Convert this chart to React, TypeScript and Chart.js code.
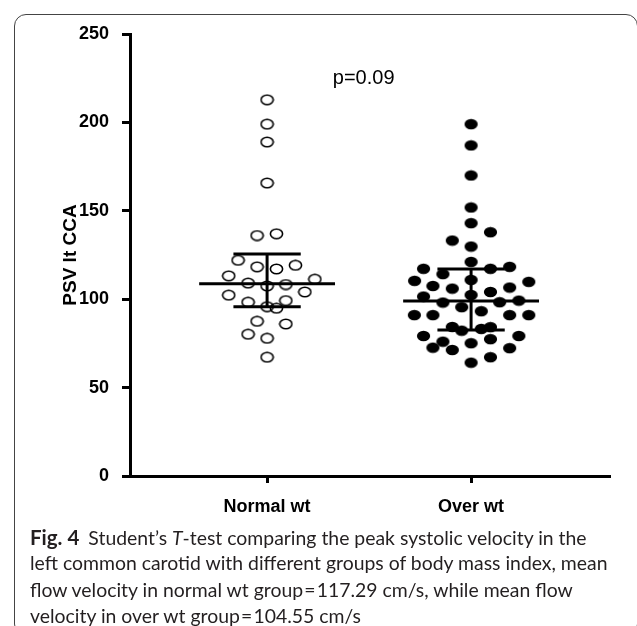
import React, { useEffect, useRef } from "react";
import { Chart, registerables } from "chart.js";

Chart.register(...registerables);

const categories = ["Normal wt", "Over wt"];

const normalValues = [212.8, 199, 188.9, 165.7, 136, 137, 122, 118.3, 117.1, 119.2, 113.2, 111.3, 109.1, 107.5, 108.3, 102.3, 104.1, 98.3, 99.2, 95.8, 94.9, 87.5, 86, 80.2, 77.9, 67.2];
const normalJitter = [0, 0, 0, 0, -0.049, 0.046, -0.142, -0.049, 0.046, 0.139, -0.188, 0.234, -0.093, 0, 0.092, -0.188, 0.185, -0.093, 0.092, 0, 0.046, -0.049, 0.092, -0.093, 0, 0];

const overValues = [199, 187, 170, 151.9, 143, 137.9, 133.2, 129.8, 121.1, 117.2, 117.2, 118.3, 114.2, 110.4, 110.9, 109.8, 107.5, 106, 106.6, 104.1, 101.5, 102.4, 99.2, 98.1, 98.3, 95.5, 93.2, 91, 91, 91, 91, 84.3, 82.2, 83.2, 84.2, 79.2, 76, 79.2, 77.4, 75.1, 72.6, 71.3, 72.3, 67.2, 64.1];
const overJitter = [0, 0, 0, 0, 0, 0.095, -0.092, 0, 0, -0.233, 0.095, 0.189, -0.138, -0.277, 0, 0.283, -0.187, -0.092, 0.189, 0.095, -0.233, 0, 0.234, -0.138, 0.14, -0.046, 0.05, -0.278, -0.187, 0.189, 0.283, -0.092, -0.046, 0.05, 0.095, -0.233, -0.138, 0.234, 0.095, 0, -0.187, -0.092, 0.189, 0.095, 0];

const medians = [108.7, 99.0];
const q1 = [95.8, 82.6];
const q3 = [125.6, 117.1];

const yTicks = [0, 50, 100, 150, 200, 250];
const pValueText = "p=0.09";

function makeEllipse(filled: boolean): HTMLCanvasElement {
  const c = document.createElement("canvas");
  c.width = 15;
  c.height = 12;
  const g = c.getContext("2d")!;
  g.beginPath();
  g.ellipse(7.5, 6, filled ? 6.6 : 6.1, filled ? 5.2 : 4.7, 0, 0, Math.PI * 2);
  if (filled) {
    g.fillStyle = "#000";
    g.fill();
  } else {
    g.lineWidth = 1.6;
    g.strokeStyle = "#000";
    g.stroke();
  }
  return c;
}

const TICK_FONT = { family: "'Liberation Sans', Arial, sans-serif", size: 18, weight: "bold" as const };

export default function App() {
  const ref = useRef<HTMLCanvasElement>(null);

  useEffect(() => {
    if (!ref.current) return;
    const open = makeEllipse(false);
    const filled = makeEllipse(true);
    const medHalf = 0.333;
    const iqrHalf = 0.165;

    const lineSets: any[] = [];
    [0, 1].forEach((i) => {
      const segs = [
        [{ x: i - medHalf, y: medians[i] }, { x: i + medHalf, y: medians[i] }],
        [{ x: i - iqrHalf, y: q1[i] }, { x: i + iqrHalf, y: q1[i] }],
        [{ x: i - iqrHalf, y: q3[i] }, { x: i + iqrHalf, y: q3[i] }],
        [{ x: i, y: q1[i] }, { x: i, y: q3[i] }],
      ];
      segs.forEach((d) =>
        lineSets.push({
          type: "line",
          data: d,
          borderColor: "#000",
          borderWidth: 3,
          pointRadius: 0,
          showLine: true,
          fill: false,
          order: 0,
          borderCapStyle: "butt",
        })
      );
    });

    const pPlugin = {
      id: "pvalue",
      afterDatasetsDraw(chart: any) {
        const { ctx, scales } = chart;
        ctx.save();
        ctx.font = "20px 'Liberation Sans', Arial, sans-serif";
        ctx.fillStyle = "#000";
        ctx.textAlign = "left";
        ctx.textBaseline = "alphabetic";
        ctx.fillText(pValueText, scales.x.getPixelForValue(0.322), scales.y.getPixelForValue(221.7));
        ctx.restore();
      },
    };

    const chart = new Chart(ref.current, {
      type: "scatter",
      data: {
        datasets: [
          ...lineSets,
          {
            data: normalValues.map((v, k) => ({ x: 0 + normalJitter[k], y: v })),
            pointStyle: open,
            pointRadius: 6,
            order: 1,
          },
          {
            data: overValues.map((v, k) => ({ x: 1 + overJitter[k], y: v })),
            pointStyle: filled,
            pointRadius: 6,
            order: 1,
          },
        ],
      },
      options: {
        responsive: false,
        animation: false,
        devicePixelRatio: 1,
        layout: { padding: { top: 34, right: 27, left: 0, bottom: 0 } },
        plugins: { legend: { display: false }, tooltip: { enabled: false } },
        scales: {
          x: {
            type: "linear",
            min: -0.672,
            max: 1.681,
            afterBuildTicks: (s: any) => {
              s.ticks = [{ value: 0 }, { value: 1 }];
            },
            afterFit: (s: any) => {
              s.height = 49;
            },
            ticks: {
              color: "#000",
              font: TICK_FONT,
              padding: 13,
              callback: (v: any) => categories[Math.round(Number(v))],
              autoSkip: false,
              maxRotation: 0,
            },
            grid: { display: true, drawOnChartArea: false, drawTicks: true, tickLength: 7, tickWidth: 3, tickColor: "#000" },
            border: { display: true, color: "#000", width: 3 },
          },
          y: {
            min: 0,
            max: 250,
            afterBuildTicks: (s: any) => {
              s.ticks = yTicks.map((v) => ({ value: v }));
            },
            afterFit: (s: any) => {
              s.width = 130;
            },
            ticks: { color: "#000", font: TICK_FONT, padding: 13 },
            grid: { display: true, drawOnChartArea: false, drawTicks: true, tickLength: 8, tickWidth: 3, tickColor: "#000" },
            border: { display: true, color: "#000", width: 3 },
            title: {
              display: true,
              text: "PSV lt CCA",
              color: "#000",
              font: { family: "'Liberation Sans', Arial, sans-serif", size: 19, weight: "bold" },
              padding: { top: 59, bottom: 0 },
            },
          },
        },
      },
      plugins: [pPlugin],
    } as any);
    return () => chart.destroy();
  }, []);

  const capStyle: React.CSSProperties = {
    position: "absolute",
    left: 30,
    fontFamily: "Lato, 'Open Sans', sans-serif",
    fontSize: 19.4,
    color: "#231f20",
    whiteSpace: "nowrap",
    lineHeight: "26px",
  };

  return (
    <div style={{ position: "fixed", left: 0, top: 0, width: 637, height: 626, overflow: "hidden", background: "#fff" }}>
      <div
        style={{
          position: "absolute",
          left: 14,
          top: 14,
          width: 622,
          height: 620,
          border: "1px solid #444",
          borderRadius: 12,
        }}
      />
      <canvas ref={ref} width={637} height={525} style={{ position: "absolute", left: 0, top: 0 }} />
      <div style={{ ...capStyle, top: 524 }}>
        <b style={{ fontSize: 20.5, marginRight: 9 }}>Fig. 4</b>Student’s <i>T</i>-test comparing the peak systolic velocity in the
      </div>
      <div style={{ ...capStyle, top: 550 }}>left common carotid with different groups of body mass index, mean</div>
      <div style={{ ...capStyle, top: 577 }}>flow velocity in normal wt group{"\u200a=\u200a"}117.29 cm/s, while mean flow</div>
      <div style={{ ...capStyle, top: 603 }}>velocity in over wt group{"\u200a=\u200a"}104.55 cm/s</div>
    </div>
  );
}
